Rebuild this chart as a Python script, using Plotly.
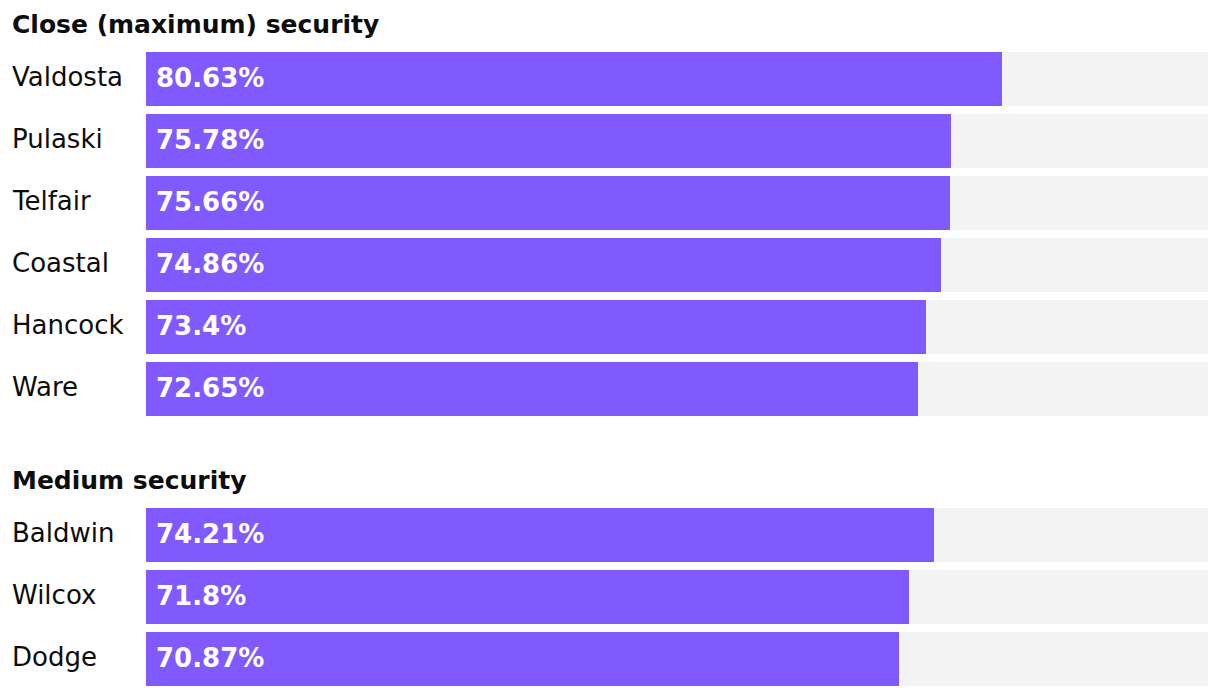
import plotly.graph_objects as go

# ---- data ----
group_titles = ["Close (maximum) security", "Medium security"]
close_names = ["Valdosta", "Pulaski", "Telfair", "Coastal", "Hancock", "Ware"]
close_values = [80.63, 75.78, 75.66, 74.86, 73.4, 72.65]
medium_names = ["Baldwin", "Wilcox", "Dodge"]
medium_values = [74.21, 71.8, 70.87]

# ---- layout constants (pixels) ----
PAGE_OFF = 8                      # default body margin of the html page
W, H = 1220 - PAGE_OFF, 696 - PAGE_OFF
ML, MR = 146 - PAGE_OFF, 12
PLOT_W = W - ML - MR
ROW = 62
BAR_H = 54
HEADER = 52
GROUP_GAP = 32
PURPLE = "#805AFF"
TRACK = "#F3F3F3"
LABEL_FONT = "'DejaVu Sans', Inter, sans-serif"
LABEL_X = -(146 - 10) / PLOT_W

names_all, values_all, ys_all = [], [], []
title_ys = []
cursor = 0
for gi, (names, vals) in enumerate([(close_names, close_values), (medium_names, medium_values)]):
    if gi > 0:
        cursor += GROUP_GAP
    title_ys.append(cursor + HEADER - 28)
    cursor += HEADER
    for i, (n, v) in enumerate(zip(names, vals)):
        names_all.append(n)
        values_all.append(v)
        ys_all.append(cursor + BAR_H / 2 + ROW * i)
    cursor += ROW * len(names)

fig = go.Figure()
fig.add_trace(go.Bar(
    x=[100] * len(values_all), y=ys_all, orientation="h", width=BAR_H,
    marker=dict(color=TRACK, line=dict(width=0)), hoverinfo="skip", showlegend=False,
))
fig.add_trace(go.Bar(
    x=values_all, y=ys_all, orientation="h", width=BAR_H,
    marker=dict(color=PURPLE, line=dict(width=0)), showlegend=False,
    hovertemplate="%{customdata}: %{x}%<extra></extra>", customdata=names_all,
))

annotations = []
for t, ty in zip(group_titles, title_ys):
    annotations.append(dict(
        text=f"<b>{t}</b>", x=LABEL_X, xref="paper", y=ty, yref="y",
        xanchor="left", yanchor="middle", showarrow=False,
        font=dict(family=LABEL_FONT, size=25, color="#0d0d0d"),
    ))
for n, v, yy in zip(names_all, values_all, ys_all):
    annotations.append(dict(
        text=n, x=LABEL_X, xref="paper", y=yy - 2, yref="y",
        xanchor="left", yanchor="middle", showarrow=False,
        font=dict(family=LABEL_FONT, size=26, color="#0d0d0d"),
    ))
    annotations.append(dict(
        text=f"<b>{v:g}%</b>", x=0, xref="x", y=yy - 1, yref="y", xshift=8,
        xanchor="left", yanchor="middle", showarrow=False,
        font=dict(family=LABEL_FONT, size=26, color="#FFFFFF"),
    ))

fig.update_layout(
    width=W, height=H,
    margin=dict(l=ML, r=MR, t=0, b=0),
    paper_bgcolor="white", plot_bgcolor="white",
    barmode="overlay", bargap=0,
    xaxis=dict(range=[0, 100], visible=False, fixedrange=True),
    yaxis=dict(range=[696, PAGE_OFF], visible=False, fixedrange=True),
    annotations=annotations,
)

fig.write_html("out.html")
